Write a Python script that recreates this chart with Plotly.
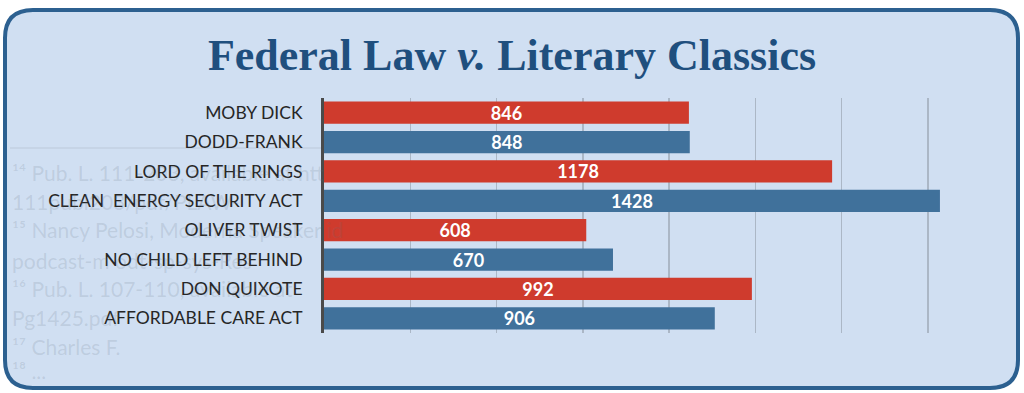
import plotly.graph_objects as go

# ---- data ----
categories = ["MOBY DICK", "DODD-FRANK", "LORD OF THE RINGS", "CLEAN  ENERGY SECURITY ACT",
              "OLIVER TWIST", "NO CHILD LEFT BEHIND", "DON QUIXOTE", "AFFORDABLE CARE ACT"]
pages = [846, 848, 1178, 1428, 608, 670, 992, 906]
kinds = ["book", "law", "book", "law", "book", "law", "book", "law"]

title_text = "Federal Law <i>v.</i> Literary Classics"

RED = "#cf3b2d"
BLUE = "#40719b"
colors = [RED if k == "book" else BLUE for k in kinds]

W, H = 1024, 393
ML, MR, MT, MB = 324, 53, 98, 60
PW, PH = W - ML - MR, H - MT - MB

def px_x(x):
    return (x - ML) / PW

def px_y(y):
    return (H - MB - y) / PH

fig = go.Figure()
fig.add_trace(go.Bar(
    y=categories, x=pages, orientation="h",
    marker=dict(color=colors, line=dict(width=0)),
    text=[str(v) for v in pages], textposition="inside", insidetextanchor="middle",
    constraintext="none",
    textfont=dict(family="Lato", size=18, color="white", weight="bold"),
    width=0.76, hoverinfo="skip",
))

# rounded frame (background panel)
x0, x1, y0, y1, r = 5, 1018, 10, 388, 28
def P(x, y):
    return f"{px_x(x):.5f},{px_y(y):.5f}"
path = (f"M {P(x0 + r, y0)} L {P(x1 - r, y0)} Q {P(x1, y0)} {P(x1, y0 + r)} "
        f"L {P(x1, y1 - r)} Q {P(x1, y1)} {P(x1 - r, y1)} "
        f"L {P(x0 + r, y1)} Q {P(x0, y1)} {P(x0, y1 - r)} "
        f"L {P(x0, y0 + r)} Q {P(x0, y0)} {P(x0 + r, y0)} Z")
shapes = [dict(type="path", path=path, xref="paper", yref="paper", layer="below",
               fillcolor="#d0dff2", line=dict(color="#2c6090", width=4)),
          dict(type="line", xref="paper", yref="paper", layer="below",
               x0=px_x(10), x1=px_x(322), y0=px_y(148), y1=px_y(148),
               line=dict(color="rgba(120,130,140,0.22)", width=1))]

# faint footnote text showing through the panel
foot_lines = ["¹⁴ Pub. L. 111-203, available at htt", "111publ203/pdf/PLAW-",
              "¹⁵ Nancy Pelosi, Moderna Speaker id", "podcast-m odt-sp-sys-Res",
              "¹⁶ Pub. L. 107-110, available at", "Pg1425.pdf",
              "¹⁷ Charles F.", "¹⁸ ..."]
foot_y = [172, 201, 230, 260, 288, 317, 346, 370]
annotations = []
for t, yy in zip(foot_lines, foot_y):
    annotations.append(dict(text=t, xref="paper", yref="paper", x=px_x(10), y=px_y(yy),
                            xanchor="left", yanchor="middle", showarrow=False,
                            font=dict(family="Lato", size=21, color="rgba(95,110,125,0.17)")))

fig.update_layout(
    width=W, height=H,
    margin=dict(l=ML, r=MR, t=MT, b=MB),
    paper_bgcolor="white", plot_bgcolor="rgba(0,0,0,0)",
    showlegend=False,
    shapes=shapes, annotations=annotations,
    title=dict(text=title_text, x=0.5, xref="container", xanchor="center",
               y=1 - 55 / H, yref="container", yanchor="middle",
               font=dict(family="Liberation Serif", size=44, color="#1f4f7e", weight="bold")),
    xaxis=dict(range=[0, 1500], dtick=200, showgrid=True, gridcolor="rgba(140,150,162,0.55)",
               gridwidth=1.5, showticklabels=False, zeroline=False, showline=False, ticks=""),
    yaxis=dict(autorange="reversed", showline=True, linecolor="#4a4a4a", linewidth=3,
               ticks="", ticklabelstandoff=15, showgrid=False,
               tickfont=dict(family="Lato", size=17.5, color="#262626")),
    bargap=0.24,
)

fig.write_html("out.html", config={"displayModeBar": False, "staticPlot": True},
               post_script="document.body.style.margin='0';document.body.style.overflow='hidden';")
